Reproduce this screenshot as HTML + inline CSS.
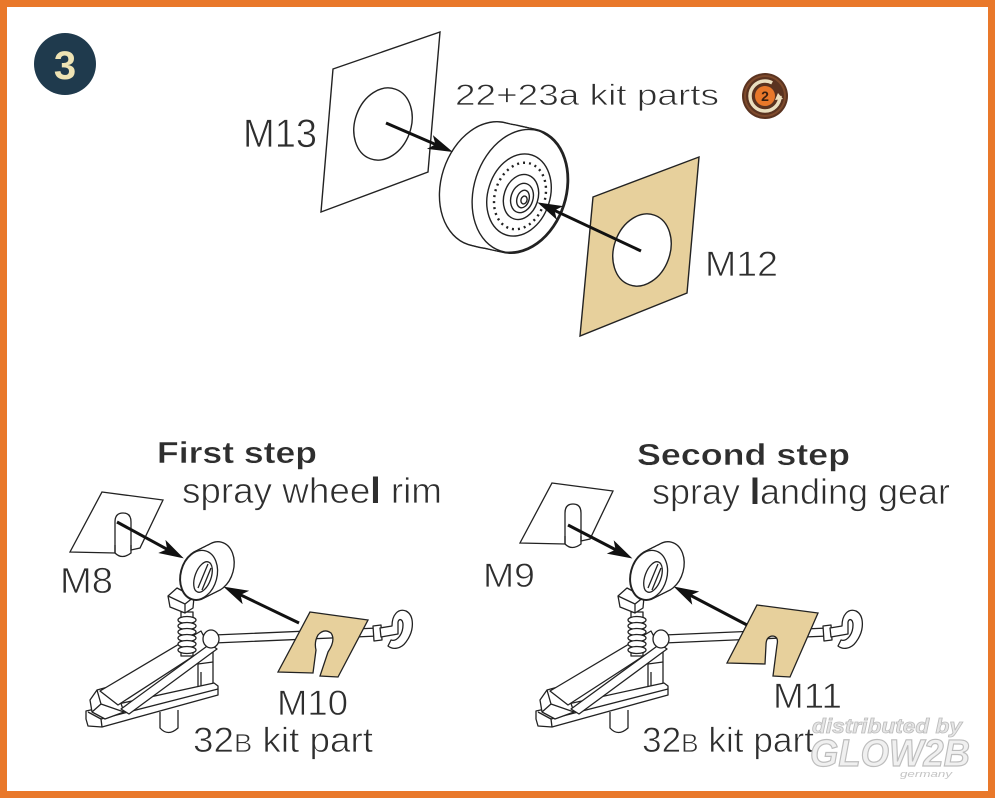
<!DOCTYPE html>
<html><head><meta charset="utf-8"><style>
html,body{margin:0;padding:0;background:#fff;}
svg{display:block;}
text{font-family:"Liberation Sans",sans-serif;fill:#2e2e2e;}
.t{stroke:#fff;stroke-width:0.7;}
.b{stroke:#fff;stroke-width:0.4;}
</style></head><body>
<svg width="1000" height="803" viewBox="0 0 1000 803" xmlns="http://www.w3.org/2000/svg">
<defs>
<marker id="ah" markerWidth="28" markerHeight="18" refX="11" refY="9" orient="auto" markerUnits="userSpaceOnUse">
<path d="M0,1.5 L25,9 L0,16.5 L6,9 Z" fill="#111"/>
</marker>
<g id="gear" stroke="#222" stroke-width="1.3" fill="#fff" stroke-linejoin="round">
  <!-- rod -->
  <path d="M214,635 L378,628 L378,636 L214,643 Z"/>
  <path d="M373,626 L381,625 L382,640 L374,641 Z"/>
  <path d="M380,628 L392,626 C392,615 398,608 406,611 C414,615 415,630 406,642 C401,649 393,650 388,646 L391,640 C397,642 403,634 403,625 C403,619 399,618 398,622 L398,634 L381,637 Z"/>
  <!-- stub -->
  <path d="M160,712 L160,728 Q168,737 178,728 L178,710"/>
  <!-- vertical post -->
  <path d="M198,646 L198,691 L213,689 L213,644 Z"/>
  <path d="M198,664 L213,662 M201,672 L201,686" fill="none"/>
  <!-- base bar -->
  <path d="M86,711 L214,683 L218,686 L218,695 L102,727 L88,726 L86,719 Z"/>
  <path d="M88,712 L101,719 L218,689 M101,719 L102,727" fill="none"/>
  <!-- footpad -->
  <path d="M90,700 L97,690 L108,687 L118,695 L124,712 L105,719 L92,712 Z"/>
  <path d="M97,690 L101,704 L124,712 M101,704 L92,712" fill="none"/>
  <!-- arm main beam -->
  <path d="M201,631 L209,646 L118,705 L100,691 Z"/>
  <!-- brace -->
  <path d="M210,644 L217,649 L129,714 L121,709 Z"/>
  <!-- node -->
  <ellipse cx="211" cy="639" rx="8" ry="9"/>
  <!-- spring -->
  <rect x="181" y="612" width="12" height="44"/>
  <ellipse cx="187" cy="620" rx="9" ry="3.5"/>
  <ellipse cx="187" cy="626" rx="9" ry="3.5"/>
  <ellipse cx="187" cy="632" rx="9" ry="3.5"/>
  <ellipse cx="187" cy="638" rx="9" ry="3.5"/>
  <ellipse cx="187" cy="644" rx="9" ry="3.5"/>
  <ellipse cx="187" cy="650" rx="9" ry="3.5"/>
  <!-- fork block -->
  <path d="M168,596 L177,588 L194,597 L193,608 L185,613 L170,607 Z"/>
  <path d="M168,596 L185,604 L194,597 M185,604 L185,613" fill="none"/>
  <!-- wheel union -->
  <g stroke-width="2.6">
    <ellipse cx="215" cy="567" rx="18" ry="25" transform="rotate(15 215 567)"/>
    <ellipse cx="211" cy="569" rx="18" ry="25" transform="rotate(15 211 569)"/>
    <ellipse cx="207" cy="571" rx="18" ry="25" transform="rotate(15 207 571)"/>
    <ellipse cx="203" cy="573" rx="18" ry="25" transform="rotate(15 203 573)"/>
    <ellipse cx="199" cy="575" rx="18" ry="25" transform="rotate(15 199 575)"/>
  </g>
  <g stroke="none">
    <ellipse cx="215" cy="567" rx="18" ry="25" transform="rotate(15 215 567)"/>
    <ellipse cx="211" cy="569" rx="18" ry="25" transform="rotate(15 211 569)"/>
    <ellipse cx="207" cy="571" rx="18" ry="25" transform="rotate(15 207 571)"/>
    <ellipse cx="203" cy="573" rx="18" ry="25" transform="rotate(15 203 573)"/>
  </g>
  <ellipse cx="199" cy="575" rx="18" ry="25" transform="rotate(15 199 575)"/>
  <ellipse cx="203" cy="577" rx="8" ry="16" transform="rotate(20 203 577)"/>
  <path d="M198,588 L208,564 M202,590 L211,568" fill="none"/>
</g>
</defs>

<rect width="1000" height="803" fill="#fff"/>
<rect x="3.5" y="3.5" width="988" height="791" fill="none" stroke="#e9782a" stroke-width="7"/>

<!-- badge -->
<circle cx="65" cy="64" r="31" fill="#1f3a4d"/>
<text x="65" y="79" font-size="40" font-weight="bold" text-anchor="middle" style="fill:#eee3b4">3</text>

<!-- M13 sheet -->
<polygon points="333,69 440,32 428,172 321,212" fill="#fff" stroke="#222" stroke-width="1.4"/>
<ellipse cx="383" cy="124" rx="28" ry="37" transform="rotate(20 383 124)" fill="none" stroke="#222" stroke-width="1.4"/>
<text class="t" x="243" y="147" font-size="40" textLength="74" lengthAdjust="spacingAndGlyphs">M13</text>

<!-- tire -->
<g stroke="#222" fill="#fff">
  <g stroke-width="2.8">
    <ellipse cx="488" cy="184" rx="46" ry="63" transform="rotate(18 488 184)"/>
    <ellipse cx="492" cy="185" rx="46" ry="63" transform="rotate(18 492 185)"/>
    <ellipse cx="496" cy="186" rx="46" ry="63" transform="rotate(18 496 186)"/>
    <ellipse cx="500" cy="186.6" rx="46" ry="63" transform="rotate(18 500 186.6)"/>
    <ellipse cx="504" cy="187.5" rx="46" ry="63" transform="rotate(18 504 187.5)"/>
    <ellipse cx="508" cy="188.4" rx="46" ry="63" transform="rotate(18 508 188.4)"/>
    <ellipse cx="512" cy="189.3" rx="46" ry="63" transform="rotate(18 512 189.3)"/>
    <ellipse cx="516" cy="190.1" rx="46" ry="63" transform="rotate(18 516 190.1)"/>
    <ellipse cx="520" cy="191" rx="46" ry="63" transform="rotate(18 520 191)"/>
  </g>
  <g stroke="none">
    <ellipse cx="488" cy="184" rx="46" ry="63" transform="rotate(18 488 184)"/>
    <ellipse cx="492" cy="185" rx="46" ry="63" transform="rotate(18 492 185)"/>
    <ellipse cx="496" cy="186" rx="46" ry="63" transform="rotate(18 496 186)"/>
    <ellipse cx="500" cy="186.6" rx="46" ry="63" transform="rotate(18 500 186.6)"/>
    <ellipse cx="504" cy="187.5" rx="46" ry="63" transform="rotate(18 504 187.5)"/>
    <ellipse cx="508" cy="188.4" rx="46" ry="63" transform="rotate(18 508 188.4)"/>
    <ellipse cx="512" cy="189.3" rx="46" ry="63" transform="rotate(18 512 189.3)"/>
    <ellipse cx="516" cy="190.1" rx="46" ry="63" transform="rotate(18 516 190.1)"/>
  </g>
  <g stroke-width="1.4" fill="none">
    <ellipse cx="520" cy="191" rx="46" ry="63" transform="rotate(18 520 191)"/>
    <ellipse cx="519" cy="195" rx="31" ry="42" transform="rotate(18 519 195)"/>
    <ellipse cx="520" cy="196" rx="25" ry="34" transform="rotate(18 520 196)" stroke-width="2.4" stroke-dasharray="2 4"/>
    <ellipse cx="521" cy="197" rx="17" ry="23" transform="rotate(18 521 197)"/>
    <ellipse cx="522" cy="198" rx="11" ry="15" transform="rotate(18 522 198)"/>
    <ellipse cx="523" cy="199" rx="6" ry="9" transform="rotate(18 523 199)"/>
    <ellipse cx="524" cy="200" rx="3" ry="4" transform="rotate(18 524 200)"/>
  </g>
</g>
<text class="t" x="455" y="105" font-size="30" textLength="264" lengthAdjust="spacingAndGlyphs">22+23a kit parts</text>

<!-- icon -->
<circle cx="765" cy="96" r="23" fill="#5a3320"/>
<circle cx="765" cy="96" r="20" fill="none" stroke="#7e4a2c" stroke-width="2"/>
<circle cx="765" cy="96" r="15" fill="none" stroke="#eadfbf" stroke-width="3.5" stroke-dasharray="78 16"/>
<path d="M778,93 L783,99 L775,100 Z" fill="#eadfbf"/>
<circle cx="765" cy="96" r="10" fill="#e8782a"/>
<text x="765" y="101" font-size="14" font-weight="bold" text-anchor="middle" style="fill:#3a2010">2</text>

<!-- M12 sheet -->
<polygon points="593,197 699,157 687,293 580,336" fill="#e7d09c" stroke="#222" stroke-width="1.4"/>
<ellipse cx="642" cy="250" rx="28" ry="37" transform="rotate(20 642 250)" fill="#fff" stroke="#222" stroke-width="1.4"/>
<text class="t" x="705" y="276" font-size="35" textLength="73" lengthAdjust="spacingAndGlyphs">M12</text>

<!-- top arrows -->
<line x1="386" y1="123" x2="440" y2="146.4" stroke="#111" stroke-width="3" marker-end="url(#ah)"/>
<line x1="641" y1="251" x2="550" y2="208.3" stroke="#111" stroke-width="3" marker-end="url(#ah)"/>

<!-- first step -->
<text class="b" x="157" y="463" font-size="31" font-weight="bold" textLength="160" lengthAdjust="spacingAndGlyphs">First step</text>
<text class="t" x="182" y="503" font-size="36" textLength="260" lengthAdjust="spacingAndGlyphs">spray whee<tspan font-weight="bold" style="stroke:none">l</tspan> rim</text>

<path d="M102,492 L163,500 L140,548 L131,550 L131,522 Q131,513 123,513 Q115,513 115,522 L115,553 L70,552 Z" fill="#fff" stroke="#222" stroke-width="1.3"/>
<path d="M115,545 L115,553 Q122,560 131,553 L131,545" fill="none" stroke="#222" stroke-width="1.3"/>
<text class="t" x="60" y="593" font-size="36" textLength="53" lengthAdjust="spacingAndGlyphs">M8</text>

<use href="#gear"/>

<path d="M310,612 L368,620 L338,677 L320,676 L328,652 Q336,640 331,633 Q324,628 318,635 Q314,642 316,650 L313,673 L278,672 Z" fill="#e7d09c" stroke="#222" stroke-width="1.3"/>
<text class="t" x="277" y="715" font-size="35" textLength="71" lengthAdjust="spacingAndGlyphs">M10</text>
<text class="t" x="193" y="752" font-size="35" textLength="180" lengthAdjust="spacingAndGlyphs">32<tspan font-size="26">B</tspan> kit part</text>

<line x1="117" y1="522" x2="171.5" y2="551.7" stroke="#111" stroke-width="3" marker-end="url(#ah)"/>
<line x1="299" y1="623" x2="236" y2="592.7" stroke="#111" stroke-width="3" marker-end="url(#ah)"/>

<!-- second step -->
<text class="b" x="637" y="465" font-size="31" font-weight="bold" textLength="213" lengthAdjust="spacingAndGlyphs">Second step</text>
<text class="t" x="652" y="504" font-size="36" textLength="298" lengthAdjust="spacingAndGlyphs">spray <tspan font-weight="bold" style="stroke:none">l</tspan>anding gear</text>

<g transform="translate(450,-9)">
<path d="M102,492 L163,500 L140,548 L131,550 L131,522 Q131,513 123,513 Q115,513 115,522 L115,553 L70,552 Z" fill="#fff" stroke="#222" stroke-width="1.3"/>
<path d="M115,545 L115,553 Q122,560 131,553 L131,545" fill="none" stroke="#222" stroke-width="1.3"/>
</g>
<text class="t" x="483" y="587" font-size="34" textLength="52" lengthAdjust="spacingAndGlyphs">M9</text>

<use href="#gear" transform="translate(450,0)"/>

<path d="M757,605 L818,613 L790,677 L773,676 L777,645 Q779,636 772,636 Q766,637 766,645 L765,664 L727,663 Z" fill="#e7d09c" stroke="#222" stroke-width="1.3"/>
<text class="t" x="773" y="708" font-size="35" textLength="69" lengthAdjust="spacingAndGlyphs">M11</text>
<text class="t" x="642" y="752" font-size="35" textLength="172" lengthAdjust="spacingAndGlyphs">32<tspan font-size="26">B</tspan> kit part</text>

<line x1="568" y1="525" x2="620" y2="552" stroke="#111" stroke-width="3" marker-end="url(#ah)"/>
<line x1="747" y1="625" x2="686" y2="593" stroke="#111" stroke-width="3" marker-end="url(#ah)"/>

<!-- watermark -->
<text x="812" y="733" font-size="20" font-style="italic" font-weight="bold" textLength="150" lengthAdjust="spacingAndGlyphs" style="fill:#e6e6e6;stroke:#bdbdbd;stroke-width:0.8">distributed by</text>
<text x="810" y="766" font-size="38" font-style="italic" font-weight="bold" textLength="160" lengthAdjust="spacingAndGlyphs" style="fill:#f0f0f0;stroke:#bdbdbd;stroke-width:1.2">GLOW2B</text>
<text x="900" y="777" font-size="9" font-style="italic" textLength="52" lengthAdjust="spacingAndGlyphs" style="fill:#c4c4c4">germany</text>
</svg>
</body></html>
